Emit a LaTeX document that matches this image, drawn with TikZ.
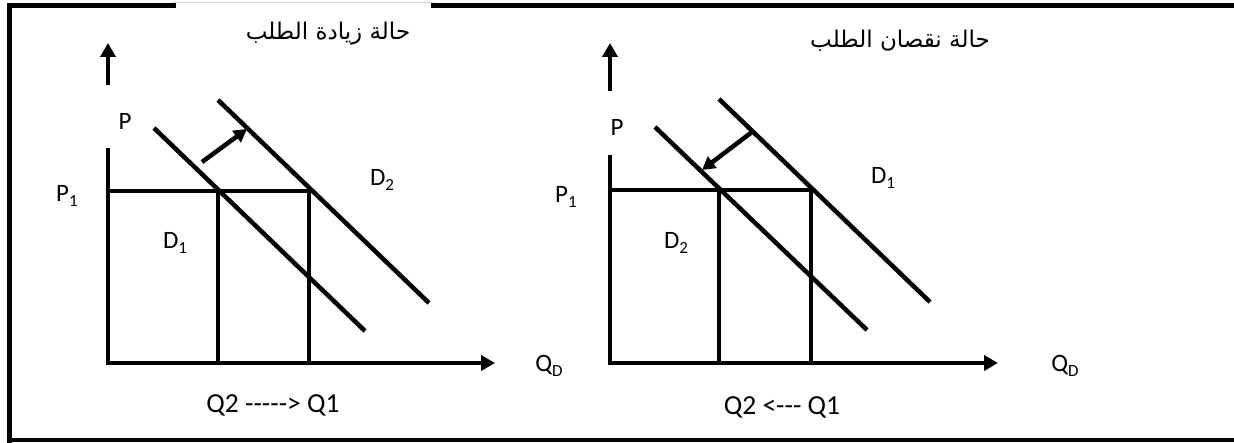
\documentclass[tikz,border=0pt]{standalone}
\usepackage{fontspec}
\setmainfont{Carlito}
\newfontfamily\arabicfont[Script=Arabic]{DejaVu Sans}
\TeXXeTstate=1
\usetikzlibrary{arrows.meta}
\newcommand{\sublab}[2]{#1\raisebox{-0.22em}{\fontsize{17}{17}\selectfont #2}}
\begin{document}
\begin{tikzpicture}[x=1pt,y=-1pt,
  gline/.style={line width=4.5pt},
  axisarrow/.style={line width=4.5pt,line join=miter,-{Triangle[length=14pt,width=15pt]}},
  shiftarrow/.style={line width=4.5pt,-{Triangle[length=13pt,width=14pt]}},
  lab/.style={font=\fontsize{25}{30}\selectfont, inner sep=0pt},
  qlab/.style={font=\fontsize{27.5}{32}\selectfont, inner sep=0pt},
  ttl/.style={font=\arabicfont\fontsize{23}{28}\selectfont, inner sep=0pt},
  frameline/.style={line width=5pt,line cap=rect,line join=miter}]
\useasboundingbox (0,0) rectangle (1234,443);
% frame
\draw[frameline] (9.5,440) -- (9.5,5.5) -- (173,5.5);
\draw[frameline] (433,5.5) -- (1236,5.5);
\draw[line width=4pt] (9.5,440) -- (1236,440);
\draw[gray!35,line width=1pt] (173,3) -- (433,3);

% ---------- left panel ----------
\coordinate (Lu0) at (108,85);  \coordinate (Lu1) at (108,43);
\coordinate (Ly0) at (108,148); \coordinate (Lo) at (108,363); \coordinate (Lx1) at (495,363);
\coordinate (Lp0) at (108,191); \coordinate (Lp1) at (309,191);
\coordinate (La) at (218,191);  \coordinate (La0) at (218,363);
\coordinate (Lb0) at (309,363);
\coordinate (Ld1s) at (154,128); \coordinate (Ld1e) at (365,331);
\coordinate (Ld2s) at (218,100); \coordinate (Ld2e) at (429,303);
\coordinate (Las) at (202,162); \coordinate (Lae) at (247,129);
\draw[axisarrow] (Lu0) -- (Lu1);
\draw[axisarrow] (Ly0) -- (Lo) -- (Lx1);
\draw[gline] (Lp0) -- (Lp1);
\draw[gline] (La) -- (La0);
\draw[gline] (Lp1) -- (Lb0);
\draw[gline] (Ld1s) -- (Ld1e);
\draw[gline] (Ld2s) -- (Ld2e);
\draw[shiftarrow] (Las) -- (Lae);
\node[ttl] (Lt) at (328,34) {\beginR حالة زيادة الطلب\endR};
\node[lab] (LP) at (125,121) {P};
\node[lab] (LP1) at (67,196) {\sublab{P}{1}};
\node[lab] (LD1) at (175,243) {\sublab{D}{1}};
\node[lab] (LD2) at (382,180) {\sublab{D}{2}};
\node[lab] (LQ) at (549,366) {\sublab{Q}{D}};
\node[qlab] (Lq) at (273,405) {Q2 -{}-{}-{}-{}-> Q1};

% ---------- right panel ----------
\coordinate (Ru0) at (610,91);  \coordinate (Ru1) at (610,43);
\coordinate (Ry0) at (610,155); \coordinate (Ro) at (610,363); \coordinate (Rx1) at (998,363);
\coordinate (Rp0) at (610,190); \coordinate (Rp1) at (811,190);
\coordinate (Ra) at (719,190);  \coordinate (Ra0) at (719,363);
\coordinate (Rb0) at (811,363);
\coordinate (Rd2s) at (655,127); \coordinate (Rd2e) at (867,330);
\coordinate (Rd1s) at (719,99);  \coordinate (Rd1e) at (930,302);
\coordinate (Ras) at (752,132); \coordinate (Rae) at (702,170);
\draw[axisarrow] (Ru0) -- (Ru1);
\draw[axisarrow] (Ry0) -- (Ro) -- (Rx1);
\draw[gline] (Rp0) -- (Rp1);
\draw[gline] (Ra) -- (Ra0);
\draw[gline] (Rp1) -- (Rb0);
\draw[gline] (Rd2s) -- (Rd2e);
\draw[gline] (Rd1s) -- (Rd1e);
\draw[shiftarrow] (Ras) -- (Rae);
\node[ttl] (Rt) at (900,41) {\beginR حالة نقصان الطلب\endR};
\node[lab] (RP) at (617,127) {P};
\node[lab] (RP1) at (566,197) {\sublab{P}{1}};
\node[lab] (RD2) at (676,243) {\sublab{D}{2}};
\node[lab] (RD1) at (883,178) {\sublab{D}{1}};
\node[lab] (RQ) at (1065,366) {\sublab{Q}{D}};
\node[qlab] (Rq) at (782,407) {Q2 <-{}-{}- Q1};
\end{tikzpicture}
\end{document}
